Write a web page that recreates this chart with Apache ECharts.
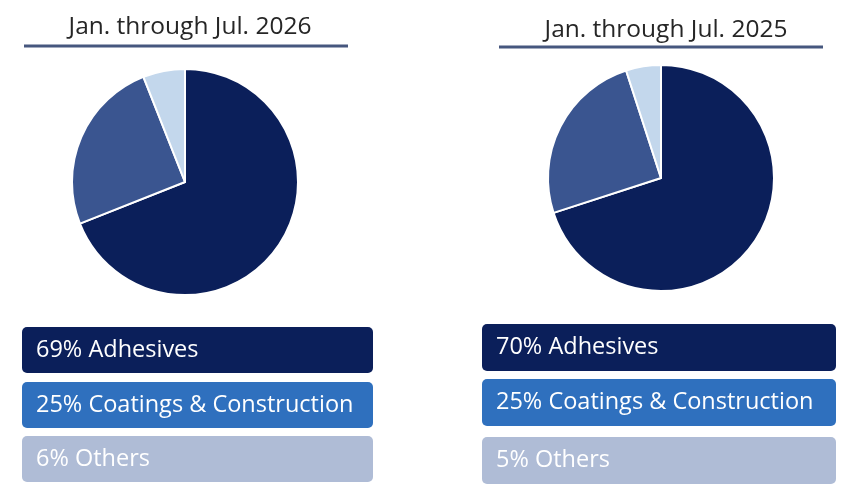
<!DOCTYPE html>
<html>
<head>
    <meta charset="utf-8">
    <title>Segments</title>
    <script src="https://cdn.jsdelivr.net/npm/echarts@6/dist/echarts.min.js"></script>
    <style>
        html, body { margin: 0; padding: 0; background: #fff; }
        #main { width: 854px; height: 500px; }
    </style>
</head>
<body>
<div id="main"></div>
<script type="text/javascript">
    // data
    var segments = ['Adhesives', 'Coatings & Construction', 'Others'];
    var periods = ['Jan. through Jul. 2026', 'Jan. through Jul. 2025'];
    var share2026 = [69, 25, 6];
    var share2025 = [70, 25, 5];

    var pieColors = ['#0b1f5a', '#3a5590', '#c3d7ec'];
    var boxColors = ['#0b1f5a', '#2f70be', '#afbcd6'];
    var font = '"Open Sans", "Noto Sans", sans-serif';

    var myChart = echarts.init(document.getElementById('main'));

    // layout of the two panels
    var panels = [
        { values: share2026, cx: 185, cy: 182, titleTop: 10, lineX: [24, 348], lineY: 46,
          boxX: 22, boxW: 351, boxY: [327, 382, 436], boxH: 46 },
        { values: share2025, cx: 661, cy: 178, titleTop: 13, lineX: [499, 823], lineY: 47,
          boxX: 482, boxW: 354, boxY: [324, 379, 437], boxH: 47 }
    ];

    var titles = [];
    var series = [];
    var graphics = [];

    panels.forEach(function (p, i) {
        titles.push({
            text: periods[i],
            left: p.cx,
            top: p.titleTop,
            textAlign: 'center',
            textStyle: { fontFamily: font, fontSize: 24.5, fontWeight: 'normal', color: '#262626' }
        });
        series.push({
            type: 'pie',
            center: [p.cx, p.cy],
            radius: 113,
            startAngle: 90,
            clockwise: true,
            silent: true,
            label: { show: false },
            labelLine: { show: false },
            itemStyle: { borderColor: '#fff', borderWidth: 2 },
            data: segments.map(function (name, k) {
                return { name: name, value: p.values[k], itemStyle: { color: pieColors[k] } };
            })
        });
        graphics.push({
            type: 'line',
            shape: { x1: p.lineX[0], y1: p.lineY, x2: p.lineX[1], y2: p.lineY },
            style: { stroke: '#46577e', lineWidth: 3 }
        });
        segments.forEach(function (name, k) {
            graphics.push({
                type: 'rect',
                shape: { x: p.boxX, y: p.boxY[k], width: p.boxW, height: p.boxH, r: 5 },
                style: { fill: boxColors[k] }
            });
            graphics.push({
                type: 'text',
                x: p.boxX + 14,
                y: p.boxY[k] + p.boxH / 2,
                style: {
                    text: p.values[k] + '% ' + name,
                    fill: '#fff',
                    fontSize: 23.5,
                    fontFamily: font,
                    verticalAlign: 'middle'
                }
            });
        });
    });

    var option = {
        backgroundColor: '#fff',
        animation: false,
        title: titles,
        series: series,
        graphic: graphics
    };

    myChart.setOption(option);
</script>
</body>
</html>
